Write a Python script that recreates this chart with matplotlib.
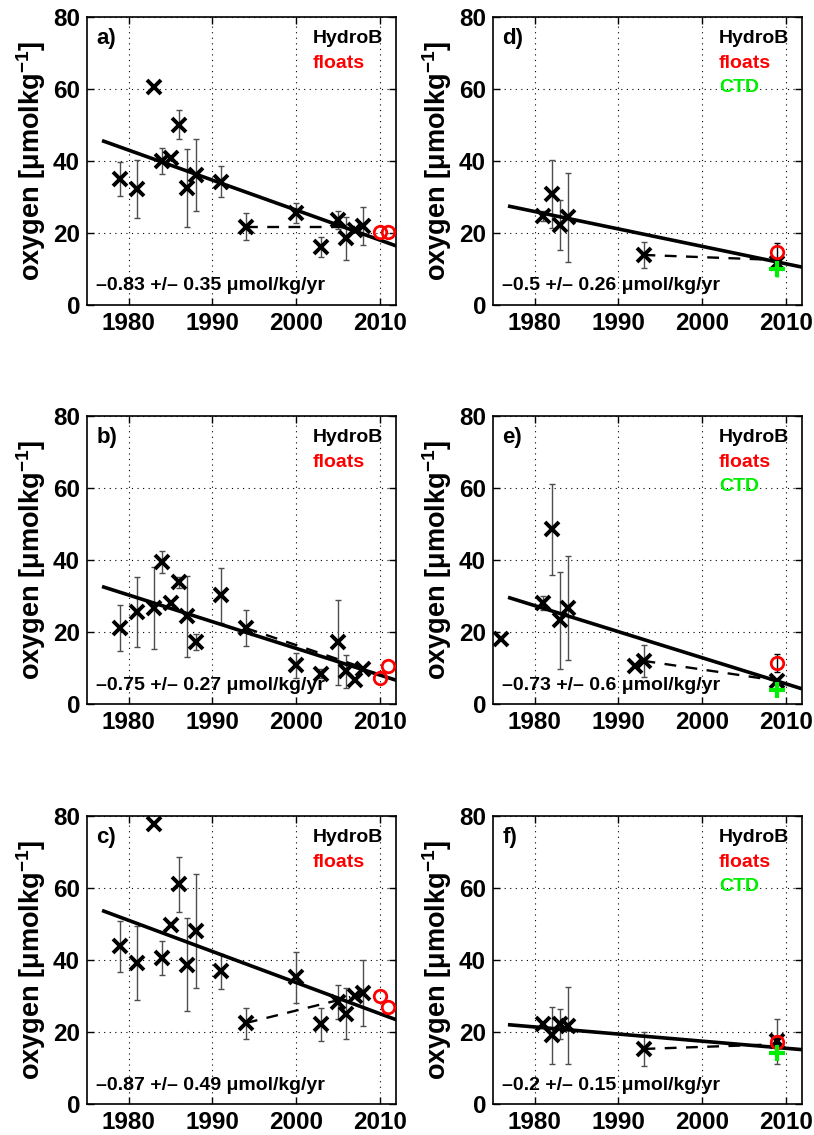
import matplotlib
matplotlib.use("Agg")
import matplotlib.pyplot as plt
import numpy as np

plt.rcParams["font.family"] = ["Liberation Sans", "DejaVu Sans"]
plt.rcParams["font.weight"] = "bold"
plt.rcParams["mathtext.fontset"] = "custom"
plt.rcParams["mathtext.rm"] = "Liberation Sans:bold"
plt.rcParams["mathtext.bf"] = "Liberation Sans:bold"
plt.rcParams["mathtext.it"] = "Liberation Sans:bold"

nan = np.nan

# ---- data ----
years_long = [1979, 1981, 1983, 1984, 1985, 1986, 1987, 1988,
              1991, 1994, 2000, 2003, 2005, 2006, 2007, 2008]

oxy_a = [35.0, 32.2, 60.5, 40.0, 40.8, 50.1, 32.6, 36.0,
         34.3, 21.8, 25.5, 16.2, 23.6, 18.5, 20.9, 22.0]
err_a = [4.7, 8.0, nan, 3.5, nan, 4.0, 10.8, 10.0,
         4.2, 3.7, 2.7, 2.8, 2.6, 6.0, nan, 5.2]
float_x_a = [2010, 2011]
float_y_a = [20.4, 20.4]
trend_a = [45.5, 16.4]
dash_x_a = [1994, 2007]
dash_y_a = [21.8, 21.8]

oxy_b = [21.1, 25.5, 26.7, 39.4, 28.1, 33.8, 24.4, 17.2,
         30.2, 21.1, 10.8, 8.4, 17.2, 9.1, 6.8, 9.7]
err_b = [6.5, 9.7, 11.5, 3.0, nan, 1.6, 11.3, 2.2,
         7.7, 5.0, 3.5, 1.2, 11.8, 4.6, nan, nan]
float_x_b = [2010, 2011]
float_y_b = [7.2, 10.7]
trend_b = [32.5, 6.6]
dash_x_b = [1994, 2007.5]
dash_y_b = [21.1, 10.5]

oxy_c = [43.8, 39.2, 77.8, 40.6, 49.6, 61.0, 38.7, 48.0,
         36.9, 22.5, 35.2, 22.1, 28.3, 25.1, 30.1, 30.9]
err_c = [7.0, 10.3, nan, 4.7, nan, 7.6, 12.9, 15.8,
         4.9, 4.3, 7.0, 4.6, 4.8, 7.0, nan, 9.2]
float_x_c = [2010, 2011]
float_y_c = [30.1, 27.0]
trend_c = [53.6, 23.4]
dash_x_c = [1994, 2006.5]
dash_y_c = [22.5, 29.7]

years_d = [1981, 1982, 1983, 1984, 1993, 2009]
oxy_d = [24.7, 30.9, 22.2, 24.4, 13.9, 11.6]
err_d = [1.4, 9.4, 7.0, 12.4, 3.6, nan]
float_x_d = [2009]
float_y_d = [14.6]
float_err_d = [2.5]
ctd_y_d = [9.9]
trend_d = [27.4, 10.5]
dash_x_d = [1993, 2009]
dash_y_d = [13.9, 12.5]

years_e = [1976, 1981, 1982, 1983, 1984, 1992, 1993, 2009]
oxy_e = [18.1, 28.1, 48.5, 23.3, 26.7, 10.5, 12.0, 6.3]
err_e = [nan, 2.0, 12.6, 13.5, 14.5, nan, 4.5, nan]
float_x_e = [2009]
float_y_e = [11.4]
float_err_e = [2.5]
ctd_y_e = [4.0]
trend_e = [29.5, 4.2]
dash_x_e = [1993, 2009]
dash_y_e = [12.0, 6.5]

years_f = [1981, 1982, 1983, 1984, 1993, 2009]
oxy_f = [22.3, 19.1, 22.3, 21.8, 15.3, 17.4]
err_f = [nan, 7.9, 4.2, 10.8, 4.8, 6.3]
float_x_f = [2009]
float_y_f = [17.1]
float_err_f = [nan]
ctd_y_f = [14.2]
trend_f = [22.0, 15.1]
dash_x_f = [1993, 2009]
dash_y_f = [15.3, 16.6]

ctd_x = [2009]
ctd_err = [2.0]
trend_x = [1977, 2012]

slopes = ["–0.83 +/– 0.35", "–0.75 +/– 0.27", "–0.87 +/– 0.49",
          "–0.5 +/– 0.26", "–0.73 +/– 0.6", "–0.2 +/– 0.15"]
labels = ["a)", "b)", "c)", "d)", "e)", "f)"]


def draw_panel(ax, years, oxy, err, fx, fy, ferr, cy, trend, dx, dy,
               label, slope_txt):
    ax.errorbar(years, oxy, yerr=err, fmt="none", ecolor="0.3",
                elinewidth=1.0, capsize=2, capthick=1.0, zorder=2)
    ax.plot(years, oxy, linestyle="none", marker="x", color="k",
            markersize=10.5, markeredgewidth=2.8, zorder=3)
    ax.plot(dx, dy, color="k", linestyle=(0, (5, 4)), linewidth=1.7, zorder=3)
    ax.plot(trend_x, trend, color="k", linewidth=2.6, zorder=4)
    if ferr is not None:
        ax.errorbar(fx, fy, yerr=ferr, fmt="none", ecolor="k",
                    elinewidth=1.0, capsize=2, zorder=5)
    ax.plot(fx, fy, linestyle="none", marker="o", markerfacecolor="none",
            markeredgecolor="red", markersize=9, markeredgewidth=2.0, zorder=6)
    if cy is not None:
        ax.errorbar(ctd_x, cy, yerr=ctd_err, fmt="none", ecolor="#00ee00",
                    elinewidth=1.8, capsize=0, zorder=5)
        ax.plot(ctd_x, cy, linestyle="none", marker="+", color="#00ee00",
                markersize=12, markeredgewidth=3.0, zorder=6)

    ax.set_xlim(1975, 2012)
    ax.set_ylim(0, 80)
    ax.set_xticks([1980, 1990, 2000, 2010])
    ax.set_yticks([0, 20, 40, 60, 80])
    ax.grid(True, linestyle=(0, (1, 4)), color="k", linewidth=0.8)
    ax.tick_params(direction="in", length=5, width=1, top=True, right=True,
                   labelsize=17.5, pad=5)
    for lab in ax.get_xticklabels() + ax.get_yticklabels():
        lab.set_fontweight("bold")
    for sp in ax.spines.values():
        sp.set_linewidth(1.2)
    ax.set_ylabel("oxygen [μmolkg$^{-1}$]", fontsize=19.5, fontweight="bold",
                  labelpad=4)

    ax.text(0.03, 0.925, label, transform=ax.transAxes, fontsize=16,
            fontweight="bold", va="center", ha="left")
    ax.text(0.73, 0.925, "HydroB", transform=ax.transAxes, fontsize=14,
            fontweight="bold", va="center", ha="left", color="k")
    ax.text(0.73, 0.84, "floats", transform=ax.transAxes, fontsize=14,
            fontweight="bold", va="center", ha="left", color="red")
    if cy is not None:
        ax.text(0.73, 0.755, "CTD", transform=ax.transAxes, fontsize=14,
                fontweight="bold", va="center", ha="left", color="#00ee00")
    ax.text(0.03, 0.066, slope_txt + " μmol/kg/yr", transform=ax.transAxes,
            fontsize=14, fontweight="bold", va="center", ha="left")


fig = plt.figure(figsize=(8.14, 11.35), dpi=100)

left_x, right_x, width = 0.1069, 0.6057, 0.3800
bottoms = [0.7313, 0.3797, 0.0273]
height = 0.2537

panels = [
    (left_x, bottoms[0], years_long, oxy_a, err_a, float_x_a, float_y_a, None, None, trend_a, dash_x_a, dash_y_a),
    (left_x, bottoms[1], years_long, oxy_b, err_b, float_x_b, float_y_b, None, None, trend_b, dash_x_b, dash_y_b),
    (left_x, bottoms[2], years_long, oxy_c, err_c, float_x_c, float_y_c, None, None, trend_c, dash_x_c, dash_y_c),
    (right_x, bottoms[0], years_d, oxy_d, err_d, float_x_d, float_y_d, float_err_d, ctd_y_d, trend_d, dash_x_d, dash_y_d),
    (right_x, bottoms[1], years_e, oxy_e, err_e, float_x_e, float_y_e, float_err_e, ctd_y_e, trend_e, dash_x_e, dash_y_e),
    (right_x, bottoms[2], years_f, oxy_f, err_f, float_x_f, float_y_f, float_err_f, ctd_y_f, trend_f, dash_x_f, dash_y_f),
]

for i, (x0, y0, yrs, oxy, err, fx, fy, ferr, cy, tr, dx, dy) in enumerate(panels):
    ax = fig.add_axes([x0, y0, width, height])
    draw_panel(ax, yrs, oxy, err, fx, fy, ferr, cy, tr, dx, dy,
               labels[i], slopes[i])

fig.savefig("out.png", dpi=100)
